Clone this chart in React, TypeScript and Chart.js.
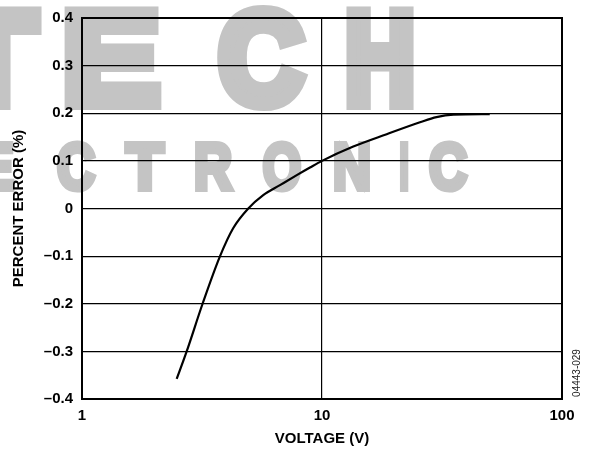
import React, { useEffect, useRef } from "react";
import { Chart, registerables } from "chart.js";

Chart.register(...registerables);

// Data
const voltage = [2.48, 2.73, 3.18, 3.76, 4.27, 4.93, 5.69, 6.68, 7.85, 8.91, 10, 13.5, 18.6, 25.6, 30.0, 35.3, 50];
const percentError = [-0.358, -0.3, -0.2, -0.1, -0.041, 0.0, 0.028, 0.049, 0.07, 0.086, 0.1, 0.13, 0.156, 0.181, 0.192, 0.197, 0.198];

const xTickValues = [1, 10, 100];
const yMin = -0.4;
const yMax = 0.4;
const yStep = 0.1;

const xTitle = "VOLTAGE (V)";
const yTitle = "PERCENT ERROR (%)";
const figureId = "04443-029";
const watermarkTop = ["T", "E", "C", "H"];
const watermarkBottom = ["E", "L", "E", "C", "T", "R", "O", "N", "I", "C"];

const FONT = "'Liberation Sans', Arial, Helvetica, sans-serif";

const fmtY = (v: number) => {
  const r = Math.round(v * 10) / 10;
  if (r === 0) return "0";
  return r < 0 ? "\u2013" + Math.abs(r).toFixed(1) : r.toFixed(1);
};

function drawLetter(ctx: CanvasRenderingContext2D, ch: string, cx: number, base: number, targetW: number, lw: number) {
  ctx.save();
  ctx.translate(cx, base);
  const w = ctx.measureText(ch).width;
  const sx = targetW / (w + lw);
  ctx.scale(sx, 1);
  ctx.lineWidth = lw;
  ctx.fillText(ch, 0, 0);
  ctx.strokeText(ch, 0, 0);
  ctx.restore();
}

const watermarkPlugin = {
  id: "watermark",
  beforeDraw(chart: any) {
    const ctx: CanvasRenderingContext2D = chart.ctx;
    ctx.save();
    ctx.fillStyle = "#c4c4c4";
    ctx.strokeStyle = "#c4c4c4";
    ctx.lineJoin = "miter";
    ctx.textAlign = "center";
    ctx.textBaseline = "alphabetic";
    // big "TECH"
    ctx.font = `bold 130px ${FONT}`;
    const topCenters = [-7, 111, 261, 380];
    const topWidths = [100, 112, 97, 80];
    watermarkTop.forEach((ch, i) => {
      drawLetter(ctx, ch, topCenters[i], 103, topWidths[i], 14);
    });
    // "ELECTRONIC"
    ctx.font = `bold 64px ${FONT}`;
    const bottomCenters = [-143, -73, -5, 76, 145, 213, 282, 352, 404, 448];
    watermarkBottom.forEach((ch, i) => {
      drawLetter(ctx, ch, bottomCenters[i], 189, ch === "I" ? 13 : 43, 6);
    });
    ctx.restore();
  },
};

const framePlugin = {
  id: "frame",
  beforeDatasetsDraw(chart: any) {
    const { ctx, chartArea } = chart;
    ctx.save();
    ctx.strokeStyle = "#000";
    ctx.lineWidth = 2;
    ctx.strokeRect(chartArea.left, chartArea.top, chartArea.right - chartArea.left, chartArea.bottom - chartArea.top);
    ctx.restore();
  },
  afterDraw(chart: any) {
    const ctx = chart.ctx;
    ctx.save();
    ctx.translate(577, 373);
    ctx.rotate(-Math.PI / 2);
    ctx.font = `10px ${FONT}`;
    ctx.fillStyle = "#222";
    ctx.textAlign = "center";
    ctx.textBaseline = "middle";
    ctx.fillText(figureId, 0, 0);
    ctx.restore();
  },
};

export default function App() {
  const ref = useRef<HTMLCanvasElement | null>(null);

  useEffect(() => {
    if (!ref.current) return;
    Chart.defaults.font.family = FONT;
    const chart = new Chart(ref.current, {
      type: "line",
      data: {
        datasets: [
          {
            data: voltage.map((v, i) => ({ x: v, y: percentError[i] })),
            borderColor: "#000",
            borderWidth: 2.2,
            pointRadius: 0,
            fill: false,
            cubicInterpolationMode: "monotone",
          },
        ],
      },
      options: {
        animation: false,
        responsive: false,
        devicePixelRatio: 1,
        layout: { padding: { top: 14, right: 29, left: 0, bottom: 0 } },
        plugins: { legend: { display: false }, tooltip: { enabled: false } },
        scales: {
          x: {
            type: "logarithmic",
            min: 1,
            max: 100,
            afterBuildTicks: (s: any) => {
              s.ticks = xTickValues.map((v) => ({ value: v }));
            },
            afterFit: (s: any) => {
              s.height = 51;
            },
            ticks: {
              callback: (v: any) => String(v),
              font: { size: 15, weight: "bold" },
              color: "#000",
              padding: 8,
              maxRotation: 0,
              autoSkip: false,
            },
            grid: { color: "#000", lineWidth: 1.2, drawTicks: false },
            border: { display: false },
            title: {
              display: true,
              text: xTitle,
              font: { size: 15, weight: "bold" },
              color: "#000",
              padding: { top: 0, bottom: 2.5 },
            },
          },
          y: {
            type: "linear",
            min: yMin,
            max: yMax,
            afterFit: (s: any) => {
              s.width = 82;
            },
            ticks: {
              stepSize: yStep,
              callback: (v: any) => fmtY(Number(v)),
              font: { size: 15, weight: "bold" },
              color: "#000",
              padding: 9,
            },
            grid: { color: "#000", lineWidth: 1.2, drawTicks: false },
            border: { display: false },
            title: {
              display: true,
              text: yTitle,
              font: { size: 15, weight: "bold" },
              color: "#000",
              padding: { top: 10, bottom: 0 },
            },
          },
        },
      },
      plugins: [watermarkPlugin, framePlugin],
    } as any);
    return () => chart.destroy();
  }, []);

  return (
    <div style={{ position: "absolute", left: 0, top: 0, width: 591, height: 450, background: "#fff" }}>
      <canvas ref={ref} width={591} height={450} style={{ display: "block" }} />
    </div>
  );
}
